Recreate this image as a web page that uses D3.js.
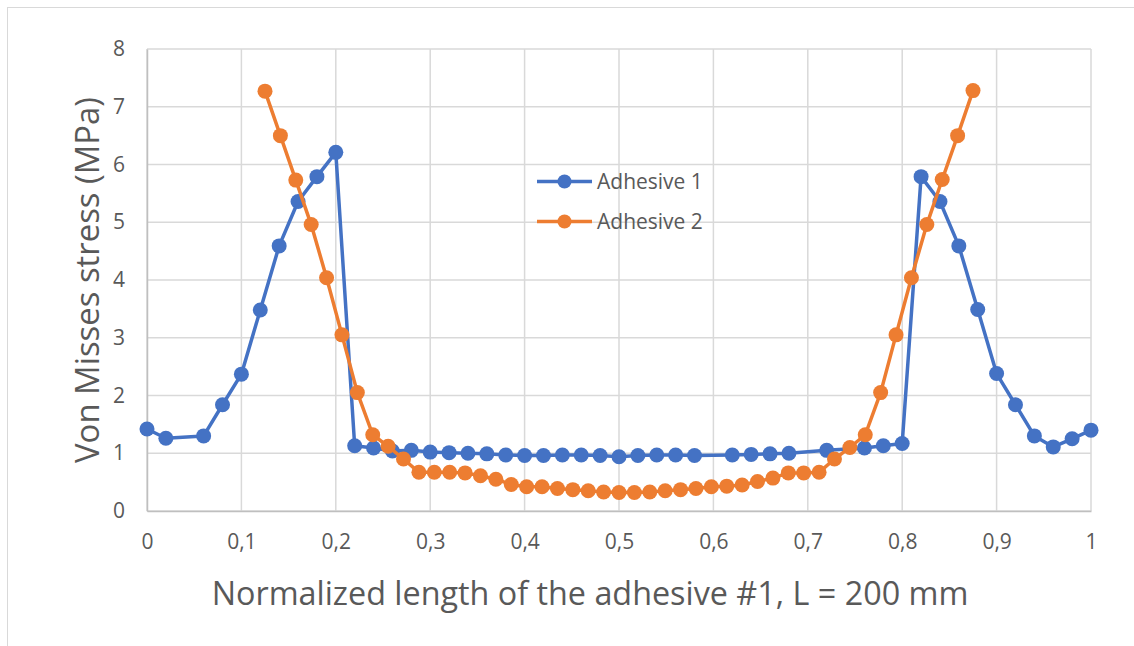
<!DOCTYPE html>
<html>
<head>
<meta charset="utf-8">
<script src="https://cdn.jsdelivr.net/npm/d3@7/dist/d3.min.js"></script>
<style>
  html, body { margin: 0; padding: 0; background: #ffffff; }
  svg { display: block; font-family: "Open Sans", sans-serif; }
</style>
</head>
<body>
<svg id="chart" width="1134" height="646"></svg>
<script>
// Adhesive 1: positions along the joint and von Mises stress (MPa)
const adhesive1X = [0, 0.02, 0.06, 0.08, 0.10, 0.12, 0.14, 0.16, 0.18, 0.20,
  0.22, 0.24, 0.26, 0.28, 0.30, 0.32, 0.34, 0.36, 0.38, 0.40,
  0.42, 0.44, 0.46, 0.48, 0.50, 0.52, 0.54, 0.56, 0.58, 0.62,
  0.64, 0.66, 0.68, 0.72, 0.76, 0.78, 0.80, 0.82, 0.84, 0.86,
  0.88, 0.90, 0.92, 0.94, 0.96, 0.98, 1.00];
const adhesive1Y = [1.42, 1.26, 1.30, 1.84, 2.37, 3.48, 4.59, 5.36, 5.79, 6.21,
  1.13, 1.09, 1.04, 1.05, 1.02, 1.01, 1.00, 0.99, 0.97, 0.96,
  0.96, 0.97, 0.97, 0.96, 0.94, 0.96, 0.97, 0.97, 0.96, 0.97,
  0.98, 0.99, 1.00, 1.05, 1.09, 1.13, 1.17, 5.79, 5.36, 4.59,
  3.49, 2.38, 1.84, 1.30, 1.11, 1.25, 1.40];

// Adhesive 2: 47 nodes from 0.125 to 0.875
const adhesive2X = [0.12500, 0.14130, 0.15761, 0.17391, 0.19022, 0.20652, 0.22283, 0.23913,
  0.25543, 0.27174, 0.28804, 0.30435, 0.32065, 0.33696, 0.35326, 0.36957,
  0.38587, 0.40217, 0.41848, 0.43478, 0.45109, 0.46739, 0.48370, 0.50000,
  0.51630, 0.53261, 0.54891, 0.56522, 0.58152, 0.59783, 0.61413, 0.63043,
  0.64674, 0.66304, 0.67935, 0.69565, 0.71196, 0.72826, 0.74457, 0.76087,
  0.77717, 0.79348, 0.80978, 0.82609, 0.84239, 0.85870, 0.87500];
const adhesive2Y = [7.27, 6.50, 5.73, 4.96, 4.04, 3.05, 2.05, 1.32,
  1.12, 0.90, 0.67, 0.67, 0.67, 0.66, 0.61, 0.55,
  0.46, 0.42, 0.42, 0.39, 0.37, 0.35, 0.33, 0.32,
  0.32, 0.33, 0.35, 0.37, 0.39, 0.42, 0.43, 0.45,
  0.51, 0.57, 0.66, 0.66, 0.67, 0.90, 1.10, 1.32,
  2.05, 3.05, 4.04, 4.96, 5.74, 6.50, 7.28];

const seriesNames = ["Adhesive 1", "Adhesive 2"];
const seriesColors = ["#4472C4", "#ED7D31"];
const xTicks = [0, 0.1, 0.2, 0.3, 0.4, 0.5, 0.6, 0.7, 0.8, 0.9, 1];
const yTicks = [0, 1, 2, 3, 4, 5, 6, 7, 8];
const xTitle = "Normalized length of the adhesive #1, L = 200 mm";
const yTitle = "Von Misses stress (MPa)";

const series = [
  { name: seriesNames[0], color: seriesColors[0], pts: adhesive1X.map((x, i) => [x, adhesive1Y[i]]) },
  { name: seriesNames[1], color: seriesColors[1], pts: adhesive2X.map((x, i) => [x, adhesive2Y[i]]) }
];

const svg = d3.select("#chart");
const W = 1134, H = 646;
const plot = { left: 147, right: 1091, top: 49, bottom: 511 };
const textColor = "#595959";

// chart frame (top and left edges sit inside the window)
svg.append("rect").attr("x", 7.5).attr("y", 7.5).attr("width", W + 20).attr("height", H + 20)
  .attr("fill", "#fff").attr("stroke", "#d9d9d9").attr("stroke-width", 1);

const x = d3.scaleLinear().domain([0, 1]).range([plot.left, plot.right]);
const y = d3.scaleLinear().domain([0, 8]).range([plot.bottom, plot.top]);

const locale = d3.formatLocale({ decimal: ",", thousands: ".", grouping: [3], currency: ["", ""] });
const fmt = locale.format("~g");

// gridlines
const grid = svg.append("g");
grid.selectAll("line.h").data(yTicks).join("line")
  .attr("x1", plot.left).attr("x2", plot.right)
  .attr("y1", d => y(d)).attr("y2", d => y(d))
  .attr("stroke", "#d9d9d9").attr("stroke-width", 1.5);
grid.selectAll("line.v").data(xTicks).join("line")
  .attr("y1", plot.top).attr("y2", plot.bottom)
  .attr("x1", d => x(d)).attr("x2", d => x(d))
  .attr("stroke", "#d9d9d9").attr("stroke-width", 1.5);

// axes
const xAxis = svg.append("g").attr("transform", `translate(0,${plot.bottom})`)
  .call(d3.axisBottom(x).tickValues(xTicks).tickFormat(fmt).tickSize(0).tickPadding(23));
const yAxis = svg.append("g").attr("transform", `translate(${plot.left},0)`)
  .call(d3.axisLeft(y).tickValues(yTicks).tickFormat(fmt).tickSize(0).tickPadding(22));
[xAxis, yAxis].forEach(a => {
  a.select(".domain").attr("stroke", "#bfbfbf").attr("stroke-width", 1.5);
  a.selectAll("text").attr("fill", textColor).style("font-size", "21px")
    .style("font-family", "'Open Sans', sans-serif");
});

// series lines and markers
const line = d3.line().x(d => x(d[0])).y(d => y(d[1]));
series.forEach(s => {
  const g = svg.append("g");
  g.append("path").datum(s.pts).attr("d", line)
    .attr("fill", "none").attr("stroke", s.color).attr("stroke-width", 3.5)
    .attr("stroke-linejoin", "round");
  g.selectAll("circle").data(s.pts).join("circle")
    .attr("cx", d => x(d[0])).attr("cy", d => y(d[1])).attr("r", 7.5)
    .attr("fill", s.color);
});

// legend
const legend = svg.append("g");
series.forEach((s, i) => {
  const ly = 181.5 + i * 40;
  legend.append("line").attr("x1", 537).attr("x2", 592).attr("y1", ly).attr("y2", ly)
    .attr("stroke", s.color).attr("stroke-width", 3.5);
  legend.append("circle").attr("cx", 564.5).attr("cy", ly).attr("r", 7).attr("fill", s.color);
  legend.append("text").attr("x", 597).attr("y", ly).attr("dy", "0.35em")
    .attr("fill", textColor).style("font-size", "21px").text(s.name);
});

// shrink or grow a text's font so it spans the given width
function fitText(sel, width, size) {
  sel.style("font-size", size + "px");
  const w = sel.node().getComputedTextLength();
  sel.style("font-size", (size * width / w).toFixed(2) + "px");
}

const xt = svg.append("text").attr("x", 590).attr("y", 605)
  .attr("text-anchor", "middle").attr("fill", textColor).text(xTitle);
fitText(xt, 757, 32);

const yt = svg.append("text").attr("transform", "translate(99,280) rotate(-90)")
  .attr("text-anchor", "middle").attr("fill", textColor).text(yTitle);
fitText(yt, 366, 32);
</script>
</body>
</html>
